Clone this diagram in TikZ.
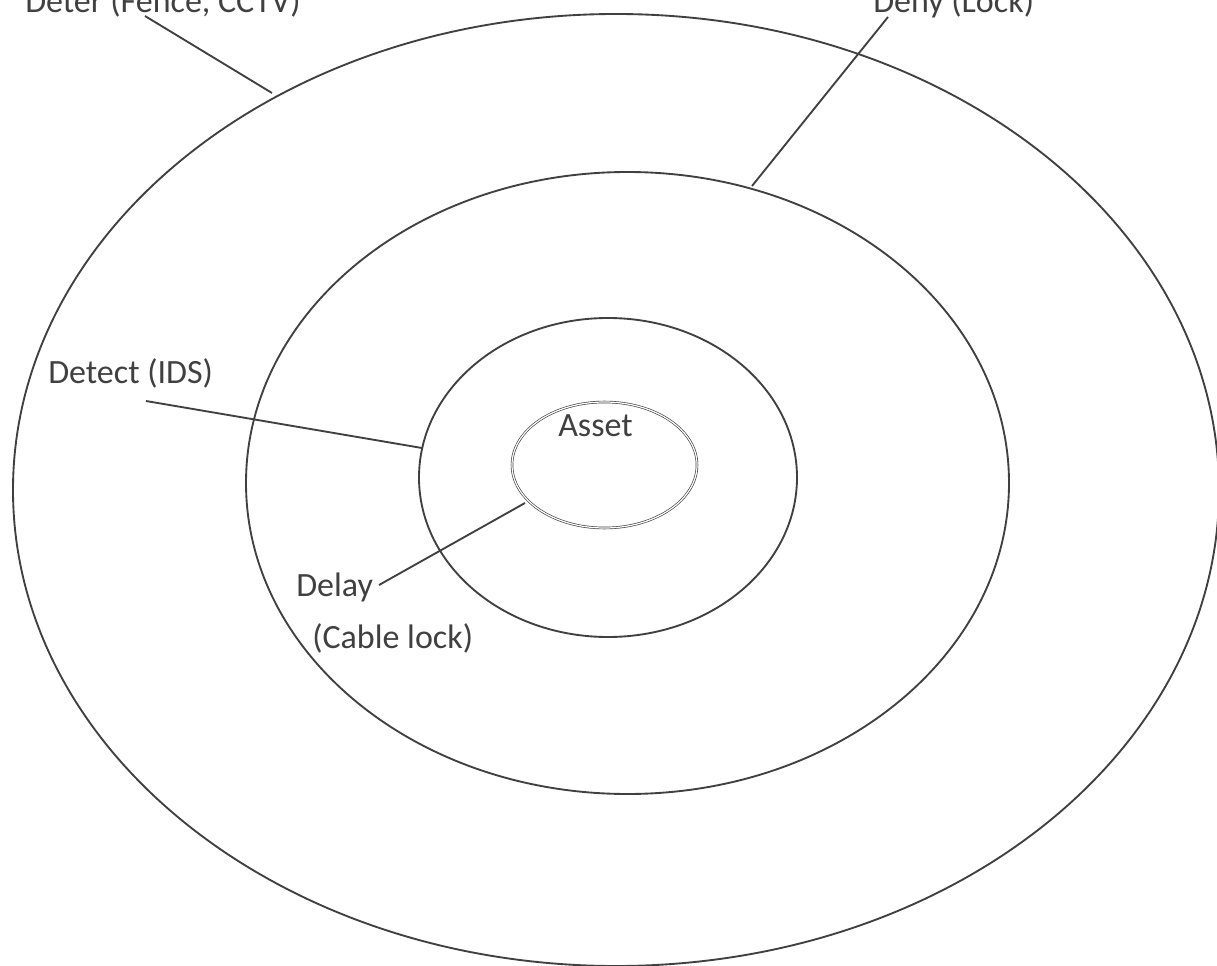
\documentclass[tikz,border=0pt]{standalone}
\usepackage{fontspec}
\setmainfont{Carlito}
\usetikzlibrary{positioning}
\definecolor{ringgray}{HTML}{404040}

\begin{document}
\begin{tikzpicture}[x=0.75pt, y=-0.75pt,
    ring/.style={draw=ringgray, line width=1.4pt},
    core/.style={draw=ringgray, line width=0.5pt, double=white, double distance=0.9pt},
    lbl/.style={anchor=base west, inner sep=0pt, text=ringgray, font=\fontsize{25.5}{30}\selectfont},
    pointer/.style={draw=ringgray, line width=1.4pt}]
    \useasboundingbox (0,0) rectangle (1217,966);

    % rings, outside in
    \draw[ring] (616,490) ellipse [x radius=603, y radius=476];
    \draw[ring] (627.5,483) ellipse [x radius=381.5, y radius=311];
    \draw[ring] (608,477.5) ellipse [x radius=189, y radius=159.5];
    \draw[core] (604.5,465) ellipse [x radius=92.5, y radius=63];

    \node[lbl] (deter) at (25,13) {Deter (Fence, CCTV)};
    \node[lbl] (deny) at (873,13) {Deny (Lock)};
    \node[lbl] (detect) at (48,383) {Detect (IDS)};
    \node[lbl] (asset) at (558,436) {Asset};
    \node[lbl] (delay) at (296,596) {Delay};
    \node[lbl] (cable) at (312,648) {(Cable lock)};

    \coordinate (deterA) at (145,16);
    \coordinate (deterB) at (272,93);
    \coordinate (denyA) at (888,17);
    \coordinate (denyB) at (752,186);
    \coordinate (detectA) at (146,401);
    \coordinate (detectB) at (422,448);
    \coordinate (delayA) at (379,585);
    \coordinate (delayB) at (525,503);

    \path[pointer]
    (deterA) edge (deterB)
    (denyA) edge (denyB)
    (detectA) edge (detectB)
    (delayA) edge (delayB);
\end{tikzpicture}
\end{document}
